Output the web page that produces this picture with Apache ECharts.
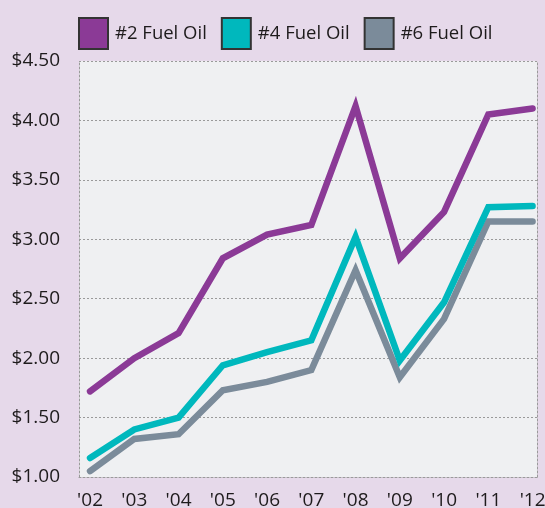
<!DOCTYPE html>
<html>
<head>
<meta charset="utf-8">
<script src="https://cdn.jsdelivr.net/npm/echarts@6/dist/echarts.min.js"></script>
<style>
  html, body { margin: 0; padding: 0; background: #e6d9ea; }
  #chart { width: 545px; height: 508px; }
</style>
</head>
<body>
<div id="chart"></div>
<script>
// Años (etiquetas del eje X)
const years = ["'02", "'03", "'04", "'05", "'06", "'07", "'08", "'09", "'10", "'11", "'12"];

// Precio por galón
const fuel2 = [1.72, 2.00, 2.21, 2.84, 3.04, 3.12, 4.12, 2.84, 3.23, 4.05, 4.10];
const fuel4 = [1.16, 1.40, 1.50, 1.94, 2.05, 2.15, 3.02, 1.98, 2.47, 3.27, 3.28];
const fuel6 = [1.05, 1.32, 1.36, 1.73, 1.80, 1.90, 2.74, 1.84, 2.33, 3.15, 3.15];

const seriesNames = ["#2 Fuel Oil", "#4 Fuel Oil", "#6 Fuel Oil"];
const colors = ["#8b3a96", "#00b8bd", "#7b8b9a"];

// el eje X es de valores: año i -> posición i + 2
const toPoints = arr => arr.map((v, i) => [i + 2, v]);

const chart = echarts.init(document.getElementById("chart"));

const dashed = { type: [2, 2], color: "#9a9a9a", width: 1 };
const textColor = "#1e1b1c";
const font = "Open Sans";

chart.setOption({
  animation: false,
  backgroundColor: "#e6d9ea",
  legend: {
    left: 73,
    top: 12,
    icon: "rect",
    itemWidth: 29,
    itemHeight: 31,
    itemGap: 14,
    itemStyle: { borderColor: "#333", borderWidth: 2 },
    textStyle: { fontSize: 18.5, color: textColor, fontFamily: font, padding: [0, 0, 0, 2] },
    data: seriesNames
  },
  grid: {
    left: 79,
    right: 8,
    top: 61,
    bottom: 31,
    outerBoundsMode: "none",
    show: true,
    backgroundColor: "#eff0f2",
    borderWidth: 0
  },
  xAxis: {
    type: "value",
    min: 1.75,
    max: 12.1,
    axisLine: { show: true, lineStyle: dashed },
    axisTick: { show: false },
    splitLine: { show: false },
    axisLabel: {
      customValues: years.map((y, i) => i + 2),
      formatter: v => years[Math.round(v) - 2] || "",
      fontSize: 19,
      color: textColor,
      fontFamily: font,
      margin: 14
    }
  },
  yAxis: [
    {
      type: "value",
      min: 1,
      max: 4.5,
      interval: 0.5,
      axisLine: { show: true, lineStyle: dashed },
      axisTick: { show: false },
      splitLine: { show: true, lineStyle: dashed },
      axisLabel: {
        formatter: v => "$" + v.toFixed(2),
        fontSize: 19,
        color: textColor,
        fontFamily: font,
        margin: 19
      }
    },
    {
      // solo para el borde derecho punteado
      type: "value",
      position: "right",
      min: 1,
      max: 4.5,
      axisLine: { show: true, lineStyle: dashed },
      axisTick: { show: false },
      axisLabel: { show: false },
      splitLine: { show: false }
    }
  ],
  series: [fuel2, fuel4, fuel6].map((arr, k) => ({
    name: seriesNames[k],
    type: "line",
    data: toPoints(arr),
    showSymbol: false,
    symbol: "none",
    itemStyle: { color: colors[k] },
    lineStyle: { width: 6.5, color: colors[k], cap: "round", join: "miter" },
    z: 10 - k
  }))
});
</script>
</body>
</html>
